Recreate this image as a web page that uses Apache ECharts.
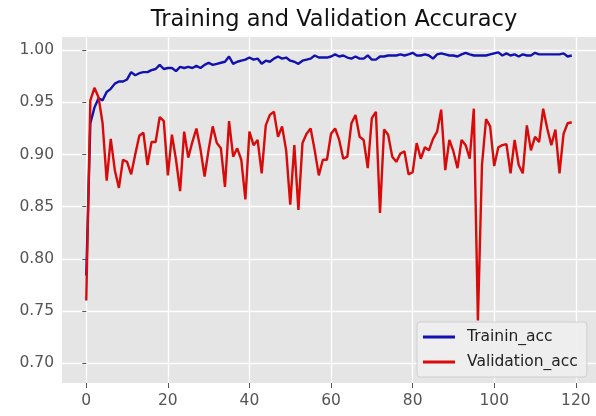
<!DOCTYPE html>
<html>
<head>
<meta charset="utf-8">
<title>Training and Validation Accuracy</title>
<script src="https://cdn.jsdelivr.net/npm/echarts@6/dist/echarts.min.js"></script>
<style>
  html, body { margin: 0; padding: 0; background: #fff; }
  #chart { width: 596px; height: 416px; }
</style>
</head>
<body>
<div id="chart"></div>
<script>
// accuracy per epoch
const trainAcc = [
  0.784, 0.930, 0.945, 0.954, 0.952, 0.960, 0.963, 0.968, 0.970, 0.970,
  0.972, 0.979, 0.976, 0.978, 0.979, 0.979, 0.981, 0.982, 0.986, 0.982,
  0.983, 0.983, 0.980, 0.984, 0.983, 0.984, 0.983, 0.985, 0.983, 0.986,
  0.988, 0.986, 0.987, 0.988, 0.989, 0.994, 0.987, 0.989, 0.990, 0.991,
  0.993, 0.991, 0.992, 0.987, 0.990, 0.989, 0.992, 0.994, 0.992, 0.993,
  0.990, 0.989, 0.987, 0.990, 0.991, 0.992, 0.995, 0.993, 0.993, 0.993,
  0.994, 0.996, 0.994, 0.995, 0.993, 0.992, 0.994, 0.992, 0.992, 0.995,
  0.991, 0.991, 0.994, 0.994, 0.995, 0.995, 0.995, 0.996, 0.995, 0.996,
  0.9975, 0.995, 0.995, 0.996, 0.995, 0.992, 0.996, 0.997, 0.996, 0.995,
  0.995, 0.994, 0.996, 0.9975, 0.996, 0.995, 0.995, 0.995, 0.995, 0.996,
  0.997, 0.998, 0.995, 0.997, 0.995, 0.996, 0.994, 0.996, 0.995, 0.995,
  0.9975, 0.996, 0.996, 0.996, 0.996, 0.996, 0.996, 0.997, 0.994, 0.995
];
const valAcc = [
  0.760, 0.952, 0.964, 0.955, 0.930, 0.875, 0.915, 0.885, 0.868, 0.895,
  0.893, 0.881, 0.900, 0.918, 0.921, 0.890, 0.912, 0.912, 0.936, 0.932,
  0.880, 0.919, 0.895, 0.865, 0.922, 0.897, 0.912, 0.925, 0.905, 0.879,
  0.905, 0.927, 0.911, 0.906, 0.869, 0.932, 0.898, 0.906, 0.895, 0.857,
  0.922, 0.909, 0.914, 0.882, 0.928, 0.938, 0.941, 0.917, 0.927, 0.904,
  0.852, 0.909, 0.847, 0.911, 0.920, 0.925, 0.904, 0.880, 0.895, 0.895,
  0.920, 0.925, 0.914, 0.896, 0.898, 0.930, 0.938, 0.917, 0.914, 0.887,
  0.935, 0.941, 0.844, 0.924, 0.919, 0.898, 0.893, 0.901, 0.903, 0.881,
  0.883, 0.911, 0.896, 0.907, 0.904, 0.915, 0.922, 0.943, 0.885, 0.914,
  0.903, 0.887, 0.914, 0.909, 0.896, 0.944, 0.741, 0.890, 0.934, 0.927,
  0.889, 0.907, 0.909, 0.910, 0.882, 0.914, 0.890, 0.882, 0.928, 0.904,
  0.917, 0.912, 0.944, 0.925, 0.909, 0.924, 0.882, 0.920, 0.930, 0.931
];
const epochs = trainAcc.map((v, i) => i);
const xTicks = [0, 20, 40, 60, 80, 100, 120];
const yTicks = [0.70, 0.75, 0.80, 0.85, 0.90, 0.95, 1.00];

const chart = echarts.init(document.getElementById('chart'));

const tickLabel = {
  color: '#555',
  fontSize: 15.5,
  fontFamily: 'DejaVu Sans'
};

const option = {
  animation: false,
  backgroundColor: '#fff',
  title: {
    text: 'Training and Validation Accuracy',
    left: 329,
    textAlign: 'center',
    top: 4,
    textStyle: {
      fontFamily: 'DejaVu Sans',
      fontSize: 22.5,
      fontWeight: 'normal',
      color: '#111'
    }
  },
  grid: {
    left: 62,
    right: 0,
    top: 37,
    bottom: 33,
    show: true,
    backgroundColor: '#e5e5e5',
    borderWidth: 0
  },
  legend: {
    orient: 'vertical',
    left: 417,
    top: 322,
    padding: [7, 9, 7, 6],
    itemGap: 9,
    itemWidth: 32,
    itemHeight: 3,
    icon: 'rect',
    backgroundColor: 'rgba(238,238,238,0.9)',
    borderColor: '#cfcfcf',
    borderWidth: 1,
    borderRadius: 3,
    textStyle: {
      color: '#222',
      fontSize: 15.5,
      fontFamily: 'DejaVu Sans',
      padding: [0, 0, 0, 7]
    },
    data: ['Trainin_acc', 'Validation_acc']
  },
  xAxis: {
    type: 'value',
    min: -5.95,
    max: 124.95,
    axisLine: { show: false },
    axisTick: {
      show: true,
      length: 5,
      customValues: xTicks,
      lineStyle: { color: '#555', width: 1 }
    },
    axisLabel: Object.assign({ customValues: xTicks, margin: 10 }, tickLabel),
    splitLine: { show: true, lineStyle: { color: '#fff', width: 1.3 } }
  },
  yAxis: {
    type: 'value',
    min: 0.681,
    max: 1.0127,
    axisLine: { show: false },
    axisTick: {
      show: true,
      length: 4,
      customValues: yTicks,
      lineStyle: { color: '#555', width: 1 }
    },
    axisLabel: Object.assign({
      customValues: yTicks,
      margin: 8,
      formatter: v => v.toFixed(2)
    }, tickLabel),
    splitLine: { show: true, lineStyle: { color: '#fff', width: 1.3 } }
  },
  series: [
    {
      name: 'Trainin_acc',
      type: 'line',
      symbol: 'none',
      color: '#1111b0',
      lineStyle: { width: 2.4, color: '#1111b0' },
      data: epochs.map((e, i) => [e, trainAcc[i]])
    },
    {
      name: 'Validation_acc',
      type: 'line',
      symbol: 'none',
      color: '#d80a0a',
      lineStyle: { width: 2.4, color: '#d80a0a' },
      data: epochs.map((e, i) => [e, valAcc[i]])
    }
  ]
};

chart.setOption(option);
</script>
</body>
</html>
